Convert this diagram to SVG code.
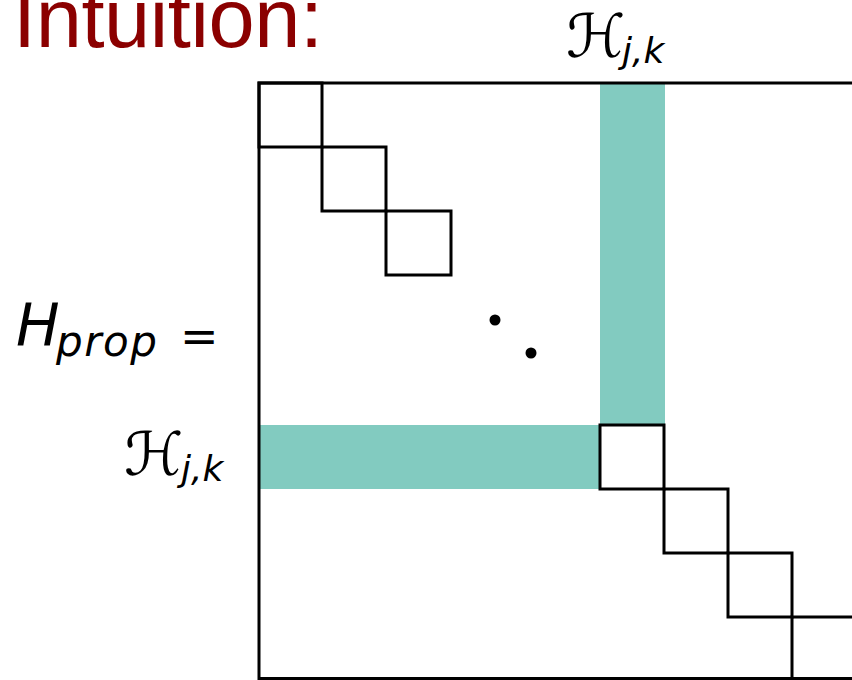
<svg xmlns="http://www.w3.org/2000/svg" width="852" height="680" viewBox="0 0 852 680">
<style>
.ln{fill:none;stroke:#000;stroke-width:3;stroke-linejoin:miter}
.band{fill:#82CBC0}
.math{font-family:"DejaVu Sans","Liberation Sans",sans-serif;fill:#000}
.it{font-style:italic}
</style>
<rect width="852" height="680" fill="#fff"/>
<text x="13" y="47" font-family="Liberation Sans, Arial, sans-serif" font-size="83" fill="#8B0000" textLength="310" lengthAdjust="spacing">Intuition:</text>
<g id="bands">
<rect class="band" x="600" y="84" width="65" height="341"/>
<rect class="band" x="259" y="425" width="341" height="64"/>
</g>
<g id="matrix">
<path class="ln" d="M259,680 V83 H852"/>
<rect class="ln" x="259" y="83" width="63" height="64"/>
<rect class="ln" x="322" y="147" width="64" height="64"/>
<rect class="ln" x="386" y="211" width="65" height="64"/>
<rect class="ln" x="600" y="425" width="64" height="64"/>
<rect class="ln" x="664" y="489" width="64" height="64"/>
<rect class="ln" x="728" y="553" width="64" height="64"/>
<rect class="ln" x="792" y="617" width="64" height="64"/>
<path class="ln" d="M259,678.5 H852"/>
</g>
<g id="dots">
<circle cx="495" cy="320" r="5.5"/>
<circle cx="531" cy="353" r="5.5"/>
</g>
<g id="label-hprop">
<text class="math it" x="16" y="345" font-size="58">H</text>
<text class="math it" x="56" y="356" font-size="42" textLength="101" lengthAdjust="spacing">prop</text>
<text class="math" x="180" y="352" font-size="46">=</text>
</g>
<g id="label-top">
<text class="math" x="566" y="57" font-size="60">ℋ</text>
<text class="math it" x="622" y="63" font-size="36">j,k</text>
</g>
<g id="label-left">
<text class="math" x="124" y="475" font-size="60">ℋ</text>
<text class="math it" x="181" y="481" font-size="36">j,k</text>
</g>
</svg>
